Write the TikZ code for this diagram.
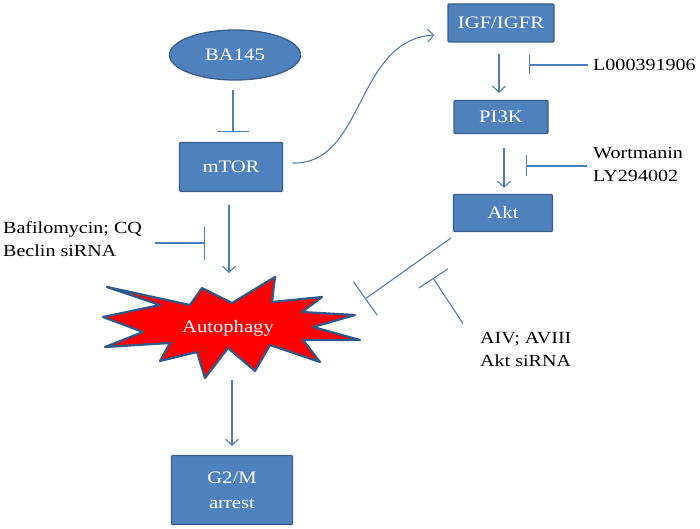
\documentclass[tikz,border=0pt]{standalone}
\usepackage{fontspec}
\setmainfont{Liberation Serif}[FakeStretch=1.18]
\usetikzlibrary{arrows.meta,shapes.geometric}
\definecolor{boxblue}{HTML}{4F81BD}
\definecolor{boxedge}{HTML}{385D8A}
\definecolor{linkblue}{HTML}{4A7EBB}
\definecolor{burstedge}{HTML}{2C5A8C}
\tikzset{
  boxfont/.style={font=\fontsize{17.5}{25}\selectfont},
  box/.style={draw=boxedge, fill=boxblue, line width=1.3pt, text=white, boxfont, align=center, inner sep=0pt, rounded corners=1pt},
  oval/.style={draw=boxedge, fill=boxblue, line width=1.3pt, text=white, boxfont, ellipse, inner sep=0pt},
  lbl/.style={font=\fontsize{17}{23}\selectfont, align=left, inner sep=0pt, anchor=west},
  link/.style={draw=linkblue, line width=1.1pt},
  act/.style={link, -{Straight Barb[length=6pt,width=13pt]}},
  inh/.style={link, -{Bar[width=#1]}},
  burst/.style={fill=red, draw=burstedge, line width=2.2pt, line join=round},
}
\begin{document}
\begin{tikzpicture}[x=1pt,y=-1pt]
\useasboundingbox (0,0) rectangle (700,529);

% main nodes
\node[oval, minimum width=131pt, minimum height=50pt] (ba) at (235,55) {BA145};
\node[box, minimum width=103pt, minimum height=49pt] (mtor) at (231,167) {mTOR};
\node[box, minimum width=106pt, minimum height=38pt] (igf) at (501,23) {IGF/IGFR};
\node[box, minimum width=94pt, minimum height=33pt] (pi3k) at (501,117) {PI3K};
\node[box, minimum width=99pt, minimum height=37pt] (akt) at (503,213) {Akt};
\node[box, minimum width=121pt, minimum height=69pt] (g2m) at (232,490) {G2/M\\arrest};

% autophagy starburst
\path[burst] (107,287) -- (160,305) -- (103,317) -- (143,332) -- (105,347)
  -- (170,343) -- (160,361) -- (197,352) -- (205,378) -- (228,348)
  -- (255,371) -- (270,345) -- (320,362) -- (303,340) -- (360,340)
  -- (313,327) -- (355,315) -- (302,312) -- (322,297) -- (272,302)
  -- (275,277) -- (232,303) -- (202,288) -- (190,305) -- cycle;
\node[boxfont, text=white, inner sep=0pt] (auto) at (228,328) {Autophagy};

% inhibitor labels
\node[lbl] (l0) at (593,65) {L000391906};
\node[lbl] (wort) at (593,164) {Wortmanin\\LY294002};
\node[lbl] (baf) at (3,239) {Bafilomycin; CQ\\Beclin siRNA};
\node[lbl] (aiv) at (480,349) {AIV; AVIII\\Akt siRNA};

% targets on edges
\coordinate (burstTop) at (229,273);
\coordinate (burstBot) at (232,380);
\coordinate (k1) at (529,65);
\coordinate (k2) at (526,166);
\coordinate (k3) at (365,299);
\coordinate (k4) at (205,243);
\coordinate (k5) at (433,278);

% connectors
\draw[inh=32pt] ([xshift=-2pt,yshift=-9pt]ba.south) -- ([xshift=2pt,yshift=10pt]mtor.north);
\draw[act] ([xshift=-2pt,yshift=-13pt]mtor.south) -- (burstTop);
\draw[act] (burstBot) -- ([yshift=9pt]g2m.north);
\draw[act] ([xshift=9.5pt,yshift=4pt]mtor.east) .. controls (365,165) and (355,40) .. ([xshift=-13pt,yshift=-12pt]igf.west);
\draw[act] ([xshift=-2pt,yshift=-11pt]igf.south) -- ([xshift=-2pt,yshift=7pt]pi3k.north);
\draw[act] ([xshift=3pt,yshift=-14pt]pi3k.south) -- ([xshift=1pt,yshift=6pt]akt.north);
\draw[inh=19pt] ([xshift=-5pt]l0.west) -- (k1);
\draw[inh=21pt] ([xshift=-6pt,yshift=-2pt]wort.west) -- (k2);
\draw[inh=33pt] ([xshift=13pt,yshift=-4pt]baf.east) -- (k4);
\draw[inh=41pt] ([xshift=-2pt,yshift=-6pt]akt.south west) -- (k3);
\draw[inh=35pt] ([xshift=-17pt,yshift=8pt]aiv.north west) -- (k5);
\end{tikzpicture}
\end{document}
